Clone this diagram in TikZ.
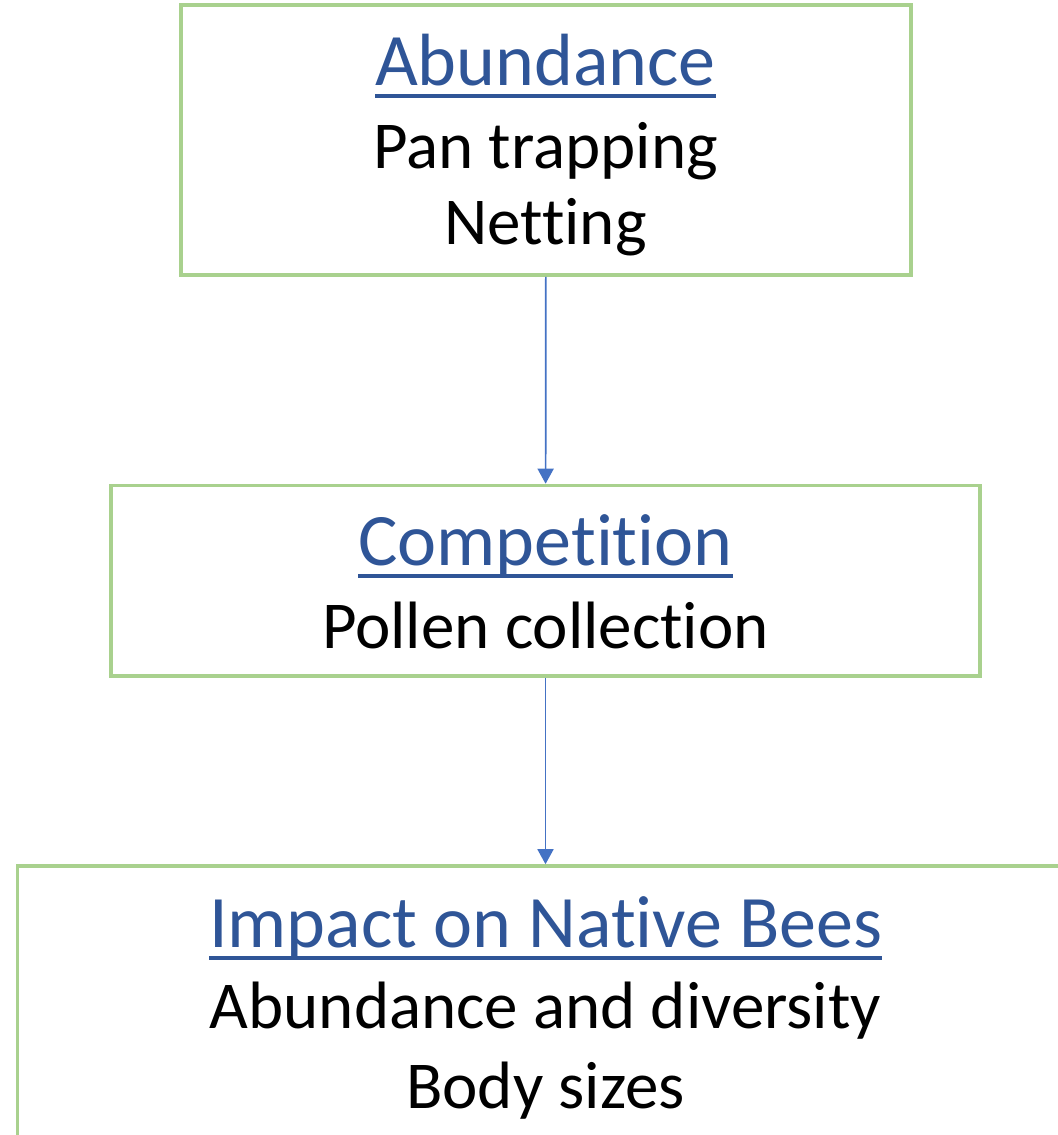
\documentclass[tikz,border=0pt]{standalone}
\usepackage{fontspec}
\setmainfont{Carlito}[Ligatures=NoCommon]
\usepackage{xcolor}
\usepackage{tikz}
\usetikzlibrary{arrows.meta}

\definecolor{boxgreen}{HTML}{A9D18E}
\definecolor{headblue}{HTML}{2F5597}
\definecolor{arrowblue}{HTML}{4472C4}

\newsavebox\ulbox
\newcommand\ulhead[1]{\sbox\ulbox{#1}\rlap{\rule[-6.5pt]{\wd\ulbox}{2pt}}\usebox\ulbox}

\begin{document}
\begin{tikzpicture}[
  x=0.5pt, y=-0.5pt,
  stagebox/.style={draw=boxgreen, line width=1.8pt, inner sep=0pt},
  head/.style={anchor=base, inner sep=0pt, text=headblue, font=\fontsize{37}{44}\selectfont},
  item/.style={anchor=base, inner sep=0pt, font=\fontsize{33.5}{40}\selectfont},
  arr/.style={-{Triangle[width=8pt,length=7.5pt]}, draw=arrowblue, fill=arrowblue, line width=0.85pt},
]
\useasboundingbox (0,0) rectangle (1058,1135);
\clip (0,0) rectangle (1058,1135);
% stage boxes
\node[stagebox, minimum width=365pt, minimum height=135pt] (abund) at (546,140) {};
\node[stagebox, minimum width=434.5pt, minimum height=95.25pt] (comp) at (545.5,580.75) {};
\node[stagebox, minimum width=528pt, minimum height=160pt] (impact) at (545.5,1026) {};
% box texts
\node[head] (abundhead) at (545.5,85) {\ulhead{Abundance}};
\node[item] (pan) at (545.5,168) {Pan trapping};
\node[item] (net) at (545.5,244) {Netting};
\node[head] (comphead) at (545.5,565) {\ulhead{Competition}};
\node[item] (pollen) at (545.5,648) {Pollen collection};
\node[head] (impacthead) at (545.5,947) {\ulhead{Impact on Native Bees}};
\node[item] (diversity) at (545.5,1028) {Abundance and diversity};
\node[item] (body) at (545.5,1108) {Body sizes};
% connectors
\draw[arr] (abund) -- (comp);
\draw[arr] (comp) -- (impact);
\end{tikzpicture}
\end{document}
